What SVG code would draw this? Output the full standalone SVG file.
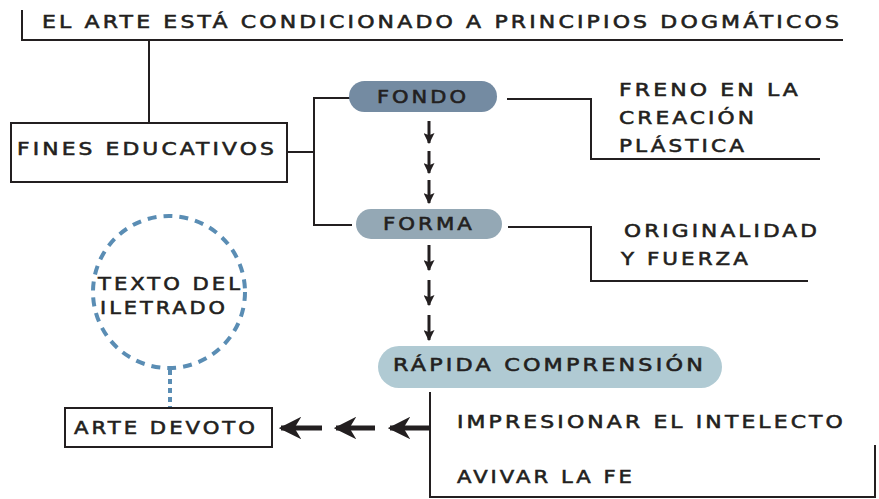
<svg xmlns="http://www.w3.org/2000/svg" width="879" height="499" viewBox="0 0 879 499">
<defs>
<style>
.t{font-family:"DejaVu Sans","Liberation Sans",sans-serif;font-size:17.5px;font-weight:normal;letter-spacing:2.5px;fill:#231f20;stroke:#231f20;stroke-width:0.55;}
.ln{fill:none;stroke:#231f20;stroke-width:2;}
.sh{stroke:#231f20;stroke-width:3;}
.box{fill:#fff;stroke:#231f20;stroke-width:2;}
.dash{fill:none;stroke:#5a8db4;stroke-width:4;stroke-dasharray:9 7;}
</style>
<marker id="sa" viewBox="0 0 10 10" refX="9" refY="5" markerWidth="11" markerHeight="11" markerUnits="userSpaceOnUse" orient="auto">
<path d="M0,0 L10,5 L0,10 L2,5 Z" fill="#231f20"/>
</marker>
<marker id="la" viewBox="0 0 10 10" refX="9" refY="5" markerWidth="4.5" markerHeight="4.5" orient="auto">
<path d="M0,0 L10,5 L0,10 L3,5 Z" fill="#231f20"/>
</marker>
</defs>
<rect width="879" height="499" fill="#fff"/>
<g id="connectors">
<polyline class="ln" points="22,10 22,40 843,40"/>
<line class="ln" x1="149" y1="40" x2="149" y2="122"/>
<line class="ln" x1="287" y1="152" x2="314" y2="152"/>
<polyline class="ln" points="350,98 314,98 314,225 352,225"/>
<polyline class="ln" points="507,99 591,99 591,159 820,159"/>
<polyline class="ln" points="508,227 591,227 591,281 808,281"/>
<line class="sh" x1="429" y1="121" x2="429" y2="143" marker-end="url(#sa)"/>
<line class="sh" x1="429" y1="151" x2="429" y2="173" marker-end="url(#sa)"/>
<line class="sh" x1="429" y1="180" x2="429" y2="203" marker-end="url(#sa)"/>
<line class="sh" x1="429" y1="245" x2="429" y2="270" marker-end="url(#sa)"/>
<line class="sh" x1="429" y1="280" x2="429" y2="305" marker-end="url(#sa)"/>
<line class="sh" x1="429" y1="315" x2="429" y2="340" marker-end="url(#sa)"/>
<polyline class="ln" points="430,392 430,497 875,497 875,445"/>
<line x1="430" y1="428" x2="390" y2="428" stroke="#231f20" stroke-width="5" marker-end="url(#la)"/>
<line x1="375" y1="428" x2="336" y2="428" stroke="#231f20" stroke-width="5" marker-end="url(#la)"/>
<line x1="322" y1="428" x2="281" y2="428" stroke="#231f20" stroke-width="5" marker-end="url(#la)"/>
<line x1="170" y1="370" x2="170" y2="408" stroke="#5a8db4" stroke-width="4" stroke-dasharray="5 4"/>
</g>
<g id="title">
<text class="t" x="42" y="28" textLength="800" lengthAdjust="spacingAndGlyphs">EL ARTE ESTÁ CONDICIONADO A PRINCIPIOS DOGMÁTICOS</text>
</g>
<g id="fines">
<rect class="box" x="11" y="123" width="276" height="59"/>
<text class="t" x="17" y="155" textLength="260" lengthAdjust="spacingAndGlyphs">FINES EDUCATIVOS</text>
</g>
<g id="fondo">
<rect x="349" y="81" width="148" height="31" rx="15.5" fill="#748ba2"/>
<text class="t" x="377" y="103" textLength="92" lengthAdjust="spacingAndGlyphs">FONDO</text>
</g>
<g id="freno">
<text class="t" x="619" y="96" textLength="182" lengthAdjust="spacingAndGlyphs">FRENO EN LA</text>
<text class="t" x="619" y="124" textLength="138" lengthAdjust="spacingAndGlyphs">CREACIÓN</text>
<text class="t" x="619" y="152" textLength="128" lengthAdjust="spacingAndGlyphs">PLÁSTICA</text>
</g>
<g id="forma">
<rect x="356" y="209" width="146" height="30" rx="15" fill="#94a8b5"/>
<text class="t" x="383" y="230" textLength="92" lengthAdjust="spacingAndGlyphs">FORMA</text>
</g>
<g id="originalidad">
<text class="t" x="624" y="237" textLength="196" lengthAdjust="spacingAndGlyphs">ORIGINALIDAD</text>
<text class="t" x="621" y="265" textLength="130" lengthAdjust="spacingAndGlyphs">Y FUERZA</text>
</g>
<g id="rapida">
<rect x="378" y="346" width="344" height="42" rx="21" fill="#b0cad3"/>
<text class="t" x="393" y="371" textLength="313" lengthAdjust="spacingAndGlyphs">RÁPIDA COMPRENSIÓN</text>
</g>
<g id="efectos">
<text class="t" x="457" y="428" textLength="389" lengthAdjust="spacingAndGlyphs">IMPRESIONAR EL INTELECTO</text>
<text class="t" x="457" y="483" textLength="178" lengthAdjust="spacingAndGlyphs">AVIVAR LA FE</text>
</g>
<g id="arte-devoto">
<rect class="box" x="65" y="408" width="207" height="39"/>
<text class="t" x="74" y="434" textLength="184" lengthAdjust="spacingAndGlyphs">ARTE DEVOTO</text>
</g>
<g id="texto-iletrado">
<circle class="dash" cx="169" cy="292" r="76"/>
<text class="t" x="98" y="290" textLength="145" lengthAdjust="spacingAndGlyphs">TEXTO DEL</text>
<text class="t" x="100" y="314" textLength="128" lengthAdjust="spacingAndGlyphs">ILETRADO</text>
</g>
</svg>
